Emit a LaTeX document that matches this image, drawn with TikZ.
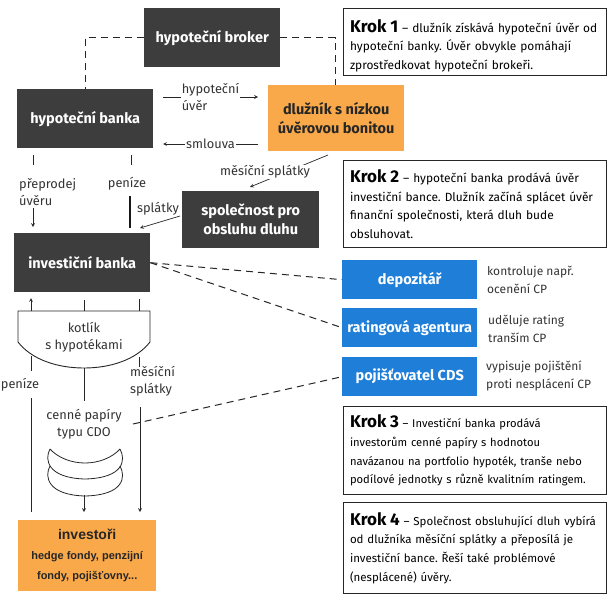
\documentclass[tikz,border=0pt]{standalone}
\usepackage{fontspec}
\setmainfont{Fira Sans}
\newfontfamily\arialfont{Liberation Sans}
\definecolor{tmava}{HTML}{3D3D3D}
\definecolor{oranzova}{HTML}{F9A949}
\definecolor{modra}{HTML}{1F7FD8}
\newcommand{\krokn}[1]{{\bfseries\fontsize{17}{18}\selectfont Krok #1}}
\tikzset{
	blok/.style={anchor=north west, inner sep=0pt, align=center, font=\bfseries\fontsize{14.5}{19}\selectfont},
	tmavy/.style={blok, fill=tmava, text=white},
	oranzovy/.style={blok, fill=oranzova, text=black!85},
	modry/.style={blok, fill=modra, text=white, minimum width=135pt, minimum height=39pt},
	krok/.style={draw=black!85, line width=1pt, anchor=north west, inner sep=0pt, minimum width=263pt, text width=250pt, align=left, font=\frenchspacing\fontsize{11.9}{18.7}\selectfont},
	popis/.style={inner sep=1pt, align=center, text=black!80, font=\fontsize{12.8}{16.5}\selectfont},
	popisl/.style={popis, align=left},
	vedle/.style={popisl, anchor=west, font=\fontsize{12}{18}\selectfont},
	carka/.style={dash pattern=on 7pt off 5pt, line width=1pt, black!85},
	sipka/.style={->, >=stealth, line width=0.7pt, black!85},
	cara/.style={line width=0.7pt, black!85}
}
\begin{document}
\begin{tikzpicture}[x=1pt, y=-1pt]
	\useasboundingbox (0,0) rectangle (609,607);
	
	%Bloky vlevo
	\node[tmavy, minimum width=136pt, minimum height=59pt] (broker) at (144,8) {hypoteční broker};
	\node[tmavy, minimum width=136pt, minimum height=59pt] (hbanka) at (17,89) {hypoteční banka};
	\node[oranzovy, minimum width=136pt, minimum height=66pt] (dluznik) at (268,85) {dlužník s nízkou\\úvěrovou bonitou};
	\node[tmavy, minimum width=137pt, minimum height=57pt] (obsluha) at (182,191) {společnost pro\\obsluhu dluhu};
	\node[tmavy, minimum width=136pt, minimum height=59pt] (ibanka) at (14,233) {investiční banka};
	\node[oranzovy, minimum width=138pt, minimum height=71pt, font=\arialfont\bfseries\fontsize{11}{20}\selectfont] (investori) at (18,520) {{\fontsize{14}{20}\selectfont investoři}\\hedge fondy, penzijní\\fondy, pojišťovny...};
	
	%Modre bloky
	\node[modry] (depozitar) at (342,260) {depozitář};
	\node[modry] (rating) at (342,308) {ratingová agentura};
	\node[modry] (pojistovatel) at (342,357) {pojišťovatel CDS};
	
	%Popisky modrych bloku
	\node[vedle] (pdepozitar) at (486,280) {kontroluje např.\\ocenění CP};
	\node[vedle] (prating) at (487,329) {uděluje rating\\tranším CP};
	\node[vedle] (ppojistovatel) at (485,376) {vypisuje pojištění\\proti nesplácení CP};
	
	%Kroky
	\node[krok, minimum height=67pt] (krok1) at (343,8) {\rule{0pt}{20pt}\krokn{1} -- dlužník získává hypoteční úvěr od\\hypoteční banky. Úvěr obvykle pomáhají\\zprostředkovat hypoteční brokeři.};
	\node[krok, minimum height=87pt] (krok2) at (343,160) {\krokn{2} -- hypoteční banka prodává úvěr\\investiční bance. Dlužník začíná splácet úvěr\\finanční společnosti, která dluh bude\\obsluhovat.};
	\node[krok, minimum height=88pt, font=\frenchspacing\fontsize{11.2}{18.7}\selectfont] (krok3) at (343,406) {\krokn{3} -- Investiční banka prodává\\investorům cenné papíry s hodnotou\\navázanou na portfolio hypoték, tranše nebo\\podílové jednotky s různě kvalitním ratingem.};
	\node[krok, minimum height=91pt, font=\frenchspacing\fontsize{11.5}{18.7}\selectfont] (krok4) at (343,502) {\krokn{4} -- Společnost obsluhující dluh vybírá\\od dlužníka měsíční splátky a přeposílá je\\investiční bance. Řeší také problémové\\(nesplácené) úvěry.};
	
	%Volne konce
	\foreach \n/\x/\y in {brokerL/85/89, brokerP/335/85, uver1/163/97, uver2/258/97, smlouva1/258/144, smlouva2/163/144,
		mes1/328/155, mes2/250/187, sp1/180/216, sp2/140/228, cdsk/133/424,
		pre1/33/155, pre2/33/165, pre3/33/208, pre4/33/227,
		pen1/131/155, pen2/131/165, pen3/130/196, pen4/130/228,
		la/31/311, lb/31/298, lc/31/356, ld/31/371, le/31/398, lf/31/512,
		sa/84/311, sb/84/300, sc/84/368, sd/84/401, se/84/495, sf/84/512,
		pa/139/311, pb/139/299, pc/139/357, pd/139/367, pe/140/407, pf/140/512}
		\coordinate (\n) at (\x,\y);
	
	%Broker
	\draw[carka] (broker.west) -| (brokerL);
	\draw[carka] (broker.east) -| (brokerP);
	
	%Uver a smlouva
	\draw[sipka] (uver1) -- node[popisl, fill=white] (huver) {hypoteční\\úvěr} (uver2);
	\draw[sipka] (smlouva1) -- node[popis, fill=white] (smlouva) {smlouva} (smlouva2);
	
	%Mesicni splatky
	\draw[sipka] (mes1) -- (mes2);
	\node[popis, fill=white] (mesicni) at (265,172) {měsíční splátky};
	\draw[sipka] (sp1) -- (sp2);
	\node[popis] (splatky) at (158,209) {splátky};
	
	%Hypotecni banka -- investicni banka
	\node[popisl, anchor=west] (preprodej) at (18,192) {přeprodej\\úvěru};
	\node[popis] (penize1) at (127,184) {peníze};
	\draw[cara] (pre1) -- (pre2);
	\draw[sipka] (pre3) -- (pre4);
	\draw[cara] (pen1) -- (pen2);
	\draw[line width=1.3pt, black!90] (pen3) -- (pen4);
	
	%Investicni banka -- modre bloky
	\draw[carka] (ibanka.east) -- (depozitar.west);
	\draw[carka] (ibanka.east) -- (rating.west);
	\draw[carka] (cdsk) -- (pojistovatel.west);
	
	%Kotlik
	\node[popis] (kotlik) at (84,337) {kotlík\\s hypotékami};
	\node[popis] (cenne) at (84,424) {cenné papíry\\typu CDO};
	\node[popis] (penize2) at (20,385) {peníze};
	\node[popisl, anchor=west] (mesicni2) at (129,381) {měsíční\\splátky};
	\draw[sipka] (la) -- (lb);
	\draw[cara] (lc) -- (ld);
	\draw[cara] (le) -- (lf);
	\draw[cara] (sa) -- (sb);
	\draw[cara] (sc) -- (sd);
	\draw[cara] (pa) -- (pb);
	\draw[cara] (pc) -- (pd);
	\draw[sipka] (pe) -- (pf);
	\draw[sipka] (se) -- (sf);
	
	%Tvar kotliku
	\draw[line width=0.9pt, black!85] (18,311) -- (150,311) -- (150,342) .. controls (136,360) and (110,368) .. (84,368) .. controls (58,368) and (32,360) .. (18,342) -- cycle;
	
	%Disky
	\foreach \d in {0,17}{
		\draw[line width=0.8pt, black!85] (50,449+\d) .. controls (44,460+\d) and (48,478+\d) .. (85,479+\d) .. controls (124,478+\d) and (126,460+\d) .. (120,449+\d);
	}
	\draw[line width=0.8pt, black!85] (50,449) .. controls (58,458) and (72,463) .. (85,463) .. controls (98,463) and (112,458) .. (120,449);
\end{tikzpicture}
\end{document}
